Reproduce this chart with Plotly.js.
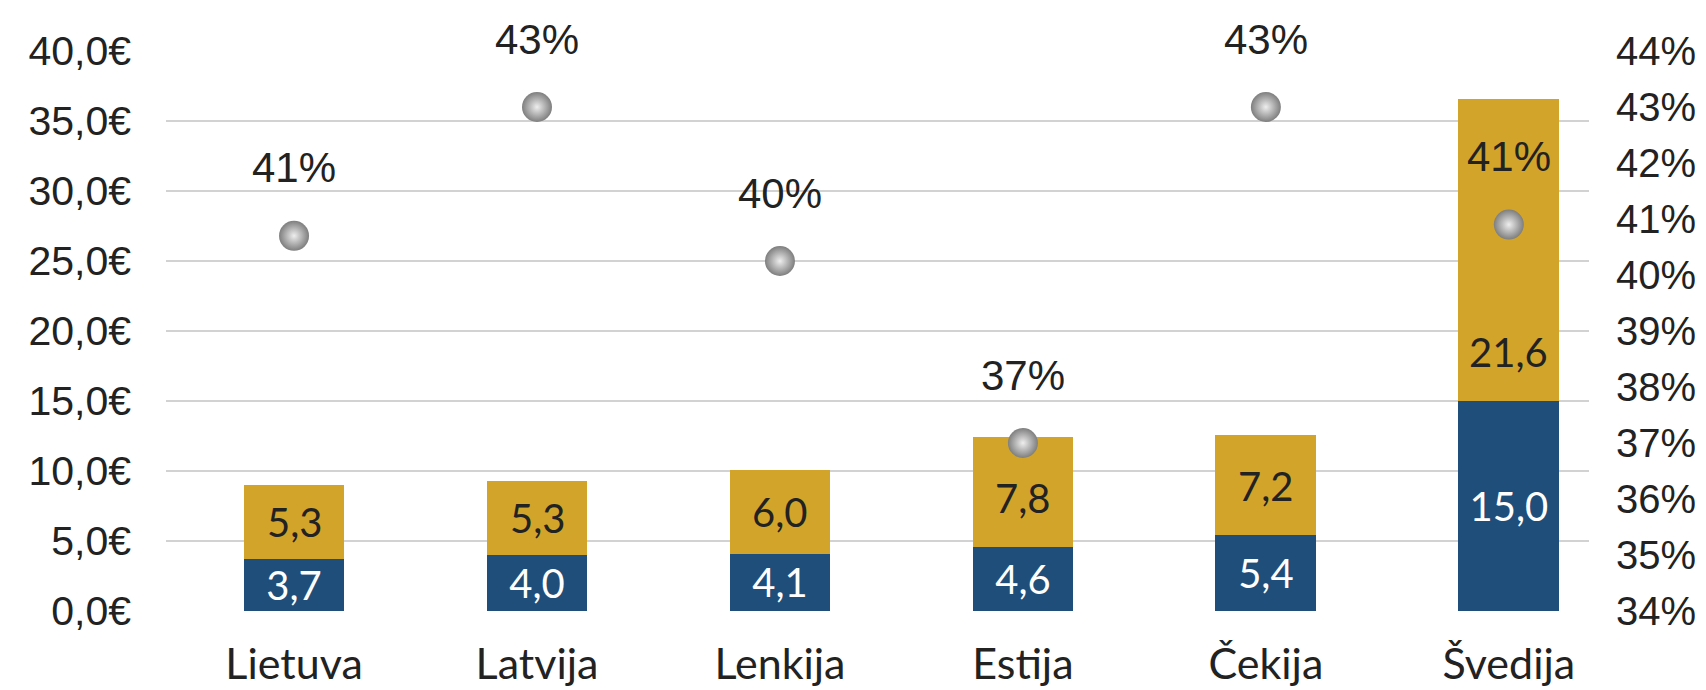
<!DOCTYPE html>
<html><head><meta charset="utf-8">
<script src="https://cdn.plot.ly/plotly-3.0.1.min.js"></script>
<style>html,body{margin:0;padding:0;background:#fff}#chart{width:1706px;height:690px}</style>
</head><body><div id="chart"></div>
<script>
// Data
const categories = ['Lietuva', 'Latvija', 'Lenkija', 'Estija', 'Čekija', 'Švedija'];
const blueValues = [3.7, 4.0, 4.1, 4.6, 5.4, 15.0];
const goldValues = [5.3, 5.3, 6.0, 7.8, 7.2, 21.6];
const shareValues = [40.7, 43.0, 40.25, 37.0, 43.0, 40.9];

const BLUE = '#1F4E7B';
const GOLD = '#D3A42A';
const TXT = '#222222';
const SANS = '"Liberation Sans", Arial, sans-serif';
const LATO = 'Lato, "Noto Sans", sans-serif';

const traces = [
  {
    type: 'bar', x: categories, y: blueValues, name: 'blue',
    marker: {color: BLUE, line: {width: 0}},
    width: 0.415,
    texttemplate: '%{y:.1f}', textposition: 'inside', insidetextanchor: 'middle',
    constraintext: 'none',
    textfont: {family: LATO, size: 40, color: '#ffffff'},
    hoverinfo: 'skip'
  },
  {
    type: 'bar', x: categories, y: goldValues, name: 'gold',
    marker: {color: GOLD, line: {width: 0}},
    width: 0.415,
    hoverinfo: 'skip'
  },
  {
    type: 'scatter', mode: 'markers', x: categories, y: shareValues, yaxis: 'y2',
    marker: {size: 30, color: '#7e7e7e', line: {width: 0},
             gradient: {type: 'radial', color: '#eeeeee'}},
    hoverinfo: 'skip'
  }
];

const annotations = [];
categories.forEach((c, i) => {
  annotations.push({
    x: c, y: blueValues[i] + Math.min(goldValues[i] / 2, 3.5), xref: 'x', yref: 'y',
    text: goldValues[i].toFixed(1).replace('.', ','), showarrow: false,
    font: {family: LATO, size: 40, color: TXT}
  });
  annotations.push({
    x: c, y: shareValues[i], xref: 'x', yref: 'y2', yshift: 68,
    text: Math.round(shareValues[i]) + '%', showarrow: false,
    font: {family: SANS, size: 42, color: TXT}
  });
});

const layout = {
  width: 1706, height: 690,
  margin: {l: 166, r: 117, t: 51, b: 79, pad: 0},
  paper_bgcolor: '#ffffff', plot_bgcolor: '#ffffff',
  barmode: 'stack', showlegend: false,
  separators: ',.',
  xaxis: {
    type: 'category', range: [-0.527, 5.33],
    showgrid: false, zeroline: false, showline: false, ticks: '',
    tickfont: {family: LATO, size: 43, color: TXT},
    ticklabelstandoff: 24
  },
  yaxis: {
    range: [0, 40], dtick: 5, tick0: 0,
    tickformat: '.1f', ticksuffix: '€',
    showgrid: true, gridcolor: '#d2d2d2', gridwidth: 2,
    zeroline: false, showline: false, ticks: '',
    tickfont: {family: SANS, size: 41, color: TXT},
    ticklabelstandoff: 34
  },
  yaxis2: {
    overlaying: 'y', side: 'right',
    range: [34, 44], dtick: 1, tick0: 34, ticksuffix: '%',
    showgrid: false, zeroline: false, showline: false, ticks: '',
    tickfont: {family: SANS, size: 40, color: TXT},
    ticklabelstandoff: 26
  },
  annotations: annotations
};

Plotly.newPlot('chart', traces, layout, {displayModeBar: false, staticPlot: true});
</script>
</body></html>
